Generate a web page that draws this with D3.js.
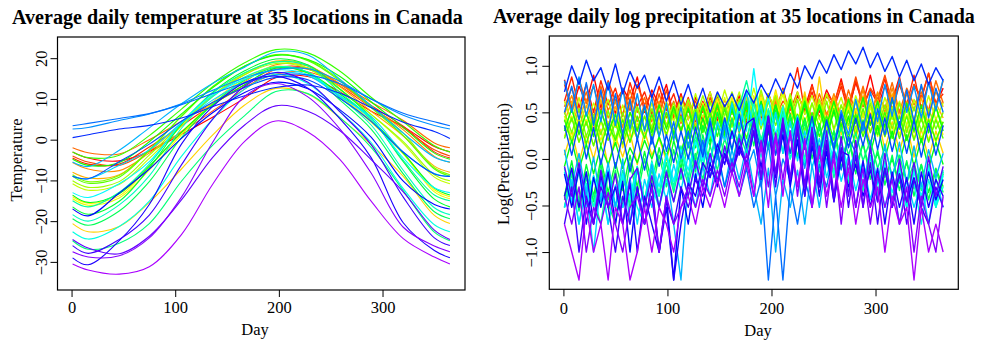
<!DOCTYPE html>
<html><head><meta charset="utf-8">
<script src="https://cdn.jsdelivr.net/npm/d3@7"></script>
<style>
body{margin:0;background:#fff}
svg{display:block}
text{font-family:"Liberation Serif","Times New Roman",serif;fill:#000}
</style>
</head><body>
<svg id="c" width="981" height="341"></svg>
<script>
// ---------------- DATA ----------------
const stations = ["St. Johns","Halifax","Sydney","Yarmouth","Charlottetown","Fredericton","Scheffervll","Arvida","Bagottville","Quebec","Sherbrooke","Montreal","Ottawa","Toronto","London","Thunder Bay","Winnipeg","The Pas","Churchill","Regina","Pr. Albert","Uranium Cty","Edmonton","Calgary","Kamloops","Vancouver","Victoria","Pr. George","Pr. Rupert","Whitehorse","Dawson","Yellowknife","Iqaluit","Inuvik","Resolute"];

const tempDays = [1,16,46,75,106,136,167,197,228,259,289,320,350,365];
const tempSeries = [
[-3.0,-4.5,-5.2,-2.9,1.3,5.5,10.2,15.2,15.5,11.7,7.0,3.2,-1.7,-3.0],
[-4.5,-6.0,-6.0,-1.8,3.4,8.6,13.5,17.6,17.6,13.6,8.4,3.3,-3.0,-4.5],
[-4.0,-5.5,-6.3,-2.8,1.8,7.0,12.4,17.2,17.3,13.1,7.9,2.9,-2.5,-4.0],
[-2.0,-3.2,-3.5,0.0,4.5,8.8,12.9,16.1,16.6,13.6,9.2,4.7,-0.8,-2.0],
[-5.6,-7.2,-7.6,-3.3,2.0,8.5,14.2,18.4,18.1,13.7,8.1,2.4,-4.1,-5.6],
[-8.0,-9.4,-8.6,-2.8,3.8,10.6,15.9,19.3,18.3,13.0,7.0,0.9,-6.5,-8.0],
[-20.6,-22.6,-21.3,-15.4,-7.2,1.1,8.5,12.6,11.2,5.3,-1.2,-9.0,-18.6,-20.6],
[-14.0,-15.6,-13.8,-6.6,1.6,9.2,15.1,18.0,16.5,10.8,4.6,-3.2,-12.3,-14.0],
[-14.5,-16.1,-14.3,-7.4,1.2,8.7,14.7,17.8,16.3,10.5,4.3,-3.5,-12.8,-14.5],
[-10.8,-12.4,-11.0,-4.6,3.3,10.8,16.3,19.1,17.6,12.3,6.2,-0.9,-9.2,-10.8],
[-10.1,-11.7,-10.3,-3.8,3.8,10.8,16.0,18.7,17.4,12.3,6.2,-0.5,-8.6,-10.1],
[-8.6,-10.3,-8.8,-2.4,5.7,12.9,18.0,20.9,19.6,14.7,8.3,1.6,-6.9,-8.6],
[-9.0,-10.7,-9.2,-2.6,5.7,13.0,18.1,20.8,19.4,14.4,7.9,1.0,-7.2,-9.0],
[-3.0,-4.4,-3.8,1.0,7.5,13.8,18.9,22.1,21.3,16.8,10.4,4.4,-1.5,-3.0],
[-4.8,-6.3,-5.6,-0.5,6.3,12.7,18.0,20.7,19.7,15.5,9.3,3.0,-3.3,-4.8],
[-13.6,-15.4,-13.3,-6.5,1.8,8.5,13.5,17.6,16.4,11.2,5.0,-3.3,-11.9,-13.6],
[-16.5,-18.3,-15.1,-7.0,3.8,11.6,16.9,19.8,18.3,12.4,5.4,-5.4,-14.6,-16.5],
[-19.4,-21.0,-17.5,-10.3,0.5,8.6,14.6,17.7,16.5,9.7,2.6,-8.4,-17.7,-19.4],
[-24.8,-26.9,-25.4,-20.6,-10.2,-1.4,5.9,11.8,11.3,5.4,-1.9,-12.5,-22.7,-24.8],
[-15.0,-16.5,-12.9,-6.0,4.1,11.4,16.4,19.1,18.1,11.6,5.1,-5.1,-13.6,-15.0],
[-18.4,-20.0,-16.0,-8.9,2.8,10.5,15.4,17.9,16.6,10.3,3.6,-7.5,-16.7,-18.4],
[-22.6,-24.4,-21.3,-15.1,-4.1,5.0,12.4,16.0,13.8,6.9,-0.7,-12.0,-20.9,-22.6],
[-13.0,-14.2,-10.8,-5.4,4.1,10.9,14.8,17.1,16.0,10.8,5.1,-4.5,-11.8,-13.0],
[-9.0,-9.6,-6.3,-2.5,4.1,9.7,14.0,16.4,15.7,10.6,5.7,-3.0,-8.3,-9.0],
[-5.5,-6.6,-2.6,2.9,8.8,13.8,17.8,21.5,20.8,14.8,8.3,1.6,-4.3,-5.5],
[2.6,3.0,4.7,6.3,8.8,12.1,15.2,17.2,17.4,14.3,10.0,6.0,3.5,2.6],
[3.4,4.0,5.2,6.4,8.6,11.3,13.9,15.8,15.9,13.7,10.0,6.5,4.4,3.4],
[-9.0,-9.6,-5.4,-1.1,4.5,9.1,12.8,15.3,14.7,10.1,4.5,-3.1,-8.4,-9.0],
[0.5,1.2,2.6,3.5,5.3,8.1,10.8,12.8,13.4,11.4,7.9,4.3,2.0,0.3],
[-17.0,-18.7,-13.1,-7.2,0.3,6.6,11.6,14.1,12.5,7.3,0.6,-10.2,-15.9,-17.0],
[-29.0,-30.7,-24.8,-15.9,-1.1,8.1,14.0,15.6,12.6,5.1,-4.4,-20.4,-27.2,-29.0],
[-26.0,-27.9,-24.5,-18.5,-6.2,5.0,13.1,16.5,14.1,6.8,-1.2,-14.1,-24.1,-26.0],
[-24.5,-26.6,-28.0,-23.7,-14.8,-4.4,3.6,8.3,7.0,2.2,-4.9,-12.8,-22.2,-24.5],
[-27.5,-28.8,-28.5,-24.1,-14.1,-0.7,10.6,13.8,10.5,2.6,-8.2,-21.5,-26.1,-27.5],
[-30.5,-32.0,-33.0,-31.2,-23.3,-11.0,-0.4,4.6,1.9,-4.9,-15.1,-24.3,-28.8,-30.5]
];

const precipDays = [1,8,15,22,29,36,43,50,57,64,71,78,85,92,99,106,113,120,127,134,141,148,155,162,169,176,183,190,197,204,211,218,225,232,239,246,253,260,267,274,281,288,295,302,309,316,323,330,337,344,351,358,365];
const precipSeries = [
[0.85,0.52,0.78,0.60,0.90,0.55,0.82,0.48,0.76,0.62,0.88,0.50,0.74,
 0.58,0.80,0.46,0.70,0.42,0.66,0.50,0.72,0.40,0.64,0.48,0.68,0.38,
 0.62,0.44,0.70,0.50,0.76,0.46,0.68,0.54,0.80,0.50,0.74,0.58,0.86,
 0.54,0.82,0.60,0.90,0.56,0.78,0.62,0.88,0.52,0.80,0.64,0.92,0.58,0.76],
[0.62,0.88,0.55,0.80,0.50,0.84,0.58,0.76,0.46,0.82,0.56,0.72,0.48,
 0.78,0.52,0.70,0.44,0.66,0.40,0.62,0.46,0.68,0.36,0.60,0.42,0.56,
 0.34,0.62,0.40,0.70,0.46,0.64,0.98,0.50,0.72,0.44,0.68,0.54,0.78,
 0.50,0.84,0.56,0.74,0.60,0.86,0.52,0.80,0.58,0.90,0.54,0.82,0.60,0.70],
[0.80,0.56,0.86,0.60,0.78,0.50,0.84,0.62,0.74,0.52,0.80,0.58,0.70,
 0.48,0.74,0.44,0.68,0.50,0.62,0.40,0.66,0.44,0.58,0.36,0.64,0.42,
 0.60,0.38,0.70,0.46,0.62,0.52,0.72,0.48,0.78,0.54,0.70,0.60,0.82,
 0.56,0.88,0.58,0.76,0.64,0.90,0.60,0.84,0.54,0.80,0.66,0.92,0.58,0.84],
[0.56,0.76,0.50,0.72,0.44,0.78,0.52,0.68,0.46,0.74,0.50,0.66,0.40,
 0.70,0.44,0.62,0.38,0.64,0.34,0.58,0.30,0.54,0.36,0.60,0.28,0.52,
 0.34,0.58,0.30,0.62,0.40,0.56,0.36,0.66,0.42,0.70,0.48,0.64,0.44,
 0.74,0.50,0.78,0.46,0.70,0.54,0.82,0.50,0.76,0.58,0.72,0.52,0.84,0.60],
[0.48,0.68,0.42,0.64,0.36,0.70,0.44,0.62,0.34,0.66,0.40,0.58,0.32,
 0.62,0.36,0.56,0.30,0.58,0.34,0.54,0.28,0.60,0.36,0.56,0.30,0.62,
 0.38,0.58,0.34,0.66,0.40,0.60,0.36,0.68,0.42,0.64,0.46,0.70,0.44,
 0.66,0.48,0.74,0.44,0.72,0.50,0.76,0.46,0.70,0.52,0.78,0.48,0.72,0.56],
[0.40,0.62,0.34,0.58,0.30,0.64,0.36,0.56,0.28,0.60,0.32,0.54,0.30,
 0.58,0.34,0.52,0.28,0.60,0.36,0.56,0.32,0.64,0.38,0.58,0.34,0.62,
 0.30,0.58,0.36,0.66,0.32,0.60,0.28,0.62,0.34,0.58,0.40,0.66,0.36,
 0.62,0.42,0.68,0.38,0.64,0.44,0.70,0.36,0.62,0.40,0.66,0.34,0.60,0.44],
[0.04,0.30,-0.04,0.26,0.00,0.32,-0.08,0.24,0.02,0.28,-0.06,0.30,0.04,
 0.22,-0.02,0.30,0.06,0.36,0.14,0.44,0.22,0.52,0.26,0.60,0.34,0.66,
 0.40,0.70,0.36,0.74,0.42,0.68,0.38,0.72,0.30,0.88,0.34,0.62,0.26,
 0.56,0.22,0.50,0.16,0.46,0.10,0.40,0.08,0.36,0.02,0.32,0.00,0.30,0.06],
[0.24,0.46,0.18,0.42,0.14,0.40,0.20,0.44,0.12,0.38,0.22,0.46,0.20,
 0.44,0.24,0.52,0.28,0.56,0.32,0.60,0.36,0.64,0.38,0.66,0.42,0.70,
 0.40,0.66,0.44,0.72,0.36,0.68,0.42,0.64,0.36,0.62,0.32,0.58,0.34,
 0.56,0.28,0.54,0.30,0.50,0.24,0.52,0.26,0.48,0.22,0.46,0.20,0.44,0.26],
[0.46,0.22,0.44,0.16,0.42,0.20,0.40,0.14,0.44,0.18,0.38,0.22,0.46,
 0.26,0.50,0.24,0.54,0.30,0.58,0.34,0.62,0.36,0.66,0.40,0.64,0.34,
 0.68,0.38,0.62,0.42,0.70,0.36,0.64,0.40,0.60,0.34,0.62,0.30,0.58,
 0.32,0.54,0.28,0.56,0.24,0.50,0.26,0.48,0.20,0.46,0.22,0.44,0.18,0.40],
[0.62,0.40,0.66,0.36,0.60,0.42,0.64,0.34,0.58,0.38,0.56,0.32,0.60,
 0.36,0.62,0.40,0.66,0.42,0.70,0.44,0.72,0.46,0.74,0.48,0.72,0.44,
 0.76,0.46,0.70,0.50,0.74,0.44,0.72,0.48,0.68,0.42,0.70,0.46,0.66,
 0.40,0.68,0.44,0.64,0.38,0.66,0.42,0.62,0.36,0.64,0.40,0.68,0.42,0.60],
[0.32,0.54,0.28,0.50,0.26,0.52,0.30,0.48,0.24,0.50,0.30,0.56,0.34,
 0.58,0.36,0.60,0.40,0.64,0.42,0.68,0.44,0.70,0.46,0.72,0.48,0.70,
 0.44,0.74,0.46,0.68,0.42,0.70,0.40,0.66,0.38,0.64,0.36,0.62,0.34,
 0.60,0.32,0.62,0.36,0.58,0.30,0.56,0.32,0.54,0.28,0.52,0.30,0.56,0.34],
[0.50,0.28,0.54,0.24,0.48,0.26,0.52,0.22,0.50,0.28,0.56,0.30,0.54,
 0.32,0.58,0.30,0.60,0.34,0.56,0.30,0.62,0.32,0.58,0.34,0.64,0.36,
 0.60,0.32,0.62,0.36,0.58,0.34,0.64,0.30,0.60,0.34,0.62,0.32,0.58,
 0.36,0.62,0.34,0.60,0.30,0.58,0.32,0.60,0.28,0.56,0.30,0.54,0.32,0.50],
[0.22,0.44,0.18,0.40,0.14,0.42,0.20,0.38,0.16,0.42,0.22,0.46,0.24,
 0.48,0.26,0.52,0.30,0.56,0.32,0.58,0.34,0.60,0.30,0.62,0.36,0.58,
 0.32,0.60,0.34,0.56,0.30,0.62,0.36,0.58,0.32,0.56,0.28,0.54,0.30,
 0.52,0.26,0.54,0.28,0.50,0.24,0.48,0.22,0.46,0.20,0.44,0.18,0.42,0.22],
[0.42,0.18,0.40,0.16,0.44,0.14,0.38,0.20,0.42,0.18,0.46,0.22,0.48,
 0.24,0.50,0.26,0.46,0.22,0.52,0.28,0.50,0.24,0.54,0.26,0.48,0.22,
 0.50,0.20,0.46,0.24,0.52,0.26,0.48,0.22,0.50,0.24,0.46,0.20,0.44,
 0.22,0.48,0.24,0.46,0.26,0.50,0.22,0.46,0.20,0.44,0.18,0.42,0.20,0.40],
[0.30,0.54,0.26,0.50,0.24,0.52,0.28,0.48,0.22,0.50,0.30,0.56,0.28,
 0.58,0.32,0.56,0.30,0.54,0.26,0.56,0.30,0.58,0.28,0.52,0.32,0.56,
 0.26,0.54,0.30,0.58,0.28,0.60,0.32,0.62,0.34,0.58,0.36,0.62,0.34,
 0.64,0.38,0.66,0.36,0.62,0.34,0.64,0.32,0.60,0.30,0.58,0.28,0.56,0.30],
[-0.08,0.20,-0.12,0.16,-0.16,0.14,-0.06,0.18,-0.10,0.12,-0.04,0.20,0.00,
 0.24,0.02,0.30,0.06,0.36,0.12,0.44,0.18,0.50,0.24,0.56,0.30,0.60,
 0.34,0.62,0.28,0.58,0.32,0.64,0.30,0.60,0.26,0.58,0.22,0.52,0.18,
 0.46,0.12,0.42,0.06,0.36,0.00,0.30,-0.04,0.26,-0.08,0.22,-0.10,0.18,-0.06],
[-0.40,-0.02,-0.46,-0.06,-0.40,0.00,-0.36,-0.04,-0.34,0.04,-0.30,0.08,-0.26,
 0.12,-0.20,0.20,-0.10,0.28,-0.02,0.36,0.14,0.50,0.22,0.58,0.30,0.62,
 0.32,0.56,0.26,0.52,0.22,0.48,0.18,0.44,0.10,0.38,0.06,0.30,0.00,
 0.22,-0.08,0.16,-0.14,0.06,-0.20,0.00,-0.26,-0.04,-0.32,-0.06,-0.36,-0.10,-0.30],
[-0.44,-0.10,-0.52,-0.14,-0.46,-0.06,-0.44,-0.12,-0.52,-0.04,-0.40,0.00,-0.36,
 0.04,-0.30,0.10,-0.22,0.18,-0.14,0.26,-0.06,0.36,0.02,0.44,0.08,0.50,
 0.14,0.54,0.10,0.48,0.06,0.44,0.02,0.40,0.00,0.34,-0.04,0.30,-0.10,
 0.24,-0.16,0.18,-0.22,0.10,-0.28,0.04,-0.34,-0.02,-0.40,-0.06,-0.44,-0.12,-0.36],
[-0.52,-0.16,-0.56,-0.20,-0.52,-0.12,-0.48,-0.70,-0.14,-0.52,-0.10,-0.46,-0.12,
 -0.40,-0.04,-0.36,0.00,-0.28,0.06,-0.22,0.14,-0.12,0.22,-0.04,0.28,0.06,
 0.36,0.10,0.44,0.16,0.50,0.20,0.46,0.14,0.42,0.12,0.40,0.08,0.34,
 0.04,0.28,-0.02,0.20,-0.10,0.12,-0.18,0.04,-0.26,-0.04,-0.34,-0.10,-0.44,-0.16],
[-0.52,-0.14,-0.46,-0.20,-0.40,-0.70,-0.16,-0.52,-0.12,-0.48,-0.08,-0.44,-0.02,
 -0.38,0.04,-0.30,0.14,-0.20,0.26,-0.08,0.34,0.10,0.44,0.22,0.56,0.84,
 0.50,0.14,0.48,0.06,0.40,0.00,0.34,-0.06,0.26,-0.14,0.20,-0.20,0.12,
 -0.26,0.06,-0.34,0.02,-0.40,-0.04,-0.52,-0.08,-0.52,-0.12,-0.46,-0.08,-0.52,-0.14],
[-0.10,-0.46,-0.14,-0.52,-0.18,-0.44,-0.12,-0.52,-0.20,-0.40,-0.08,-0.46,-0.04,
 -0.40,0.04,-0.32,0.10,-0.22,0.20,-0.10,0.30,0.00,0.40,0.08,0.50,0.14,
 0.62,0.18,0.54,0.12,0.48,0.06,0.42,0.00,0.34,-0.06,0.26,-0.14,0.18,
 -0.20,0.10,-0.28,0.04,-0.36,-0.02,-0.44,-0.06,-0.52,-0.10,-0.46,-0.06,-0.52,-0.12],
[-0.52,-0.22,-0.70,-0.26,-0.52,-0.18,-0.70,-0.30,-0.52,-0.24,-0.52,-0.70,-0.30,
 -0.52,-0.22,-0.46,-0.14,-0.40,-0.06,-0.30,0.04,-0.22,0.10,-0.12,0.18,-0.04,
 0.26,0.02,0.34,0.06,0.30,0.00,0.26,-0.04,0.20,-0.10,0.14,-0.16,0.08,
 -0.22,0.02,-0.30,-0.06,-0.40,-0.12,-0.52,-0.20,-0.52,-0.26,-0.70,-0.22,-0.52,-0.30],
[-0.14,-0.46,-0.10,-0.52,-0.18,-0.40,-0.12,-0.52,-0.16,-0.44,-0.10,-0.48,-0.04,
 -0.30,0.06,-0.24,0.10,-0.12,0.18,-0.02,0.28,0.10,0.42,0.22,0.60,0.30,
 0.97,0.36,0.66,0.26,0.56,0.20,0.46,0.12,0.38,0.04,0.30,-0.04,0.20,
 -0.12,0.10,-0.20,0.02,-0.28,-0.06,-0.36,-0.12,-0.44,-0.14,-0.40,-0.10,-0.48,-0.18],
[-0.52,-0.26,-0.70,-0.30,-1.00,-0.24,-0.70,-0.28,-0.52,-0.20,-0.70,-0.22,-0.52,
 -0.16,-0.44,-0.06,-0.34,0.04,-0.24,0.16,-0.04,0.40,0.20,0.60,0.30,0.72,
 0.28,0.58,0.14,0.50,0.06,0.40,-0.02,0.30,-0.10,0.22,-0.20,0.12,-0.24,
 0.04,-0.34,-0.02,-0.44,-0.10,-0.52,-0.18,-0.70,-0.22,-0.52,-0.26,-0.70,-0.20,-0.52],
[0.10,-0.30,0.06,-0.40,0.02,-0.46,-0.04,-0.52,0.00,-0.70,-0.10,-0.52,-0.06,
 -0.52,-0.12,-0.70,-1.30,-0.20,-0.52,-0.08,-0.40,0.04,-0.30,0.10,-0.22,0.14,
 -0.30,-0.70,-0.10,-1.00,-0.22,-0.52,-0.12,-0.70,-0.06,-0.52,0.00,-0.40,0.04,
 -0.36,0.08,-0.30,0.12,-0.26,0.16,-0.22,0.18,-0.26,0.14,-0.30,0.10,-0.20,0.06],
[0.84,0.50,0.88,0.46,0.80,0.40,0.82,0.36,0.76,0.32,0.70,0.30,0.66,
 0.24,0.60,0.20,0.56,0.12,0.50,0.06,0.44,0.00,0.36,-0.06,0.26,-0.12,
 0.10,-0.30,0.16,-0.40,0.00,-0.22,0.20,-0.10,0.30,0.00,0.40,0.14,0.52,
 0.26,0.64,0.30,0.72,0.40,0.80,0.46,0.86,0.50,0.78,0.44,0.82,0.52,0.86],
[0.50,0.78,0.42,0.82,0.36,0.74,0.30,0.70,0.26,0.64,0.20,0.58,0.16,
 0.50,0.08,0.40,0.00,0.30,-0.10,0.20,-0.20,0.10,-0.30,0.00,-0.40,-0.10,
 -0.52,-0.22,-1.30,-0.40,-1.30,-0.30,-0.70,-0.22,-0.52,-0.06,-0.30,0.10,-0.12,
 0.24,0.06,0.40,0.14,0.54,0.26,0.66,0.34,0.74,0.40,0.80,0.44,0.76,0.50],
[0.36,0.04,0.40,0.00,0.34,-0.06,0.30,-0.10,0.26,-0.14,0.22,-0.12,0.24,
 -0.08,0.26,-0.04,0.30,0.00,0.34,0.02,0.40,0.06,0.44,0.10,0.48,0.12,
 0.42,0.08,0.46,0.04,0.40,0.06,0.44,0.10,0.46,0.04,0.42,0.10,0.48,
 0.12,0.44,0.14,0.48,0.10,0.44,0.08,0.40,0.06,0.42,0.02,0.38,0.04,0.36],
[0.72,1.00,0.80,1.06,0.84,0.98,0.74,1.02,0.70,0.94,0.76,0.90,0.66,
 0.88,0.62,0.84,0.58,0.80,0.54,0.76,0.50,0.72,0.56,0.70,0.52,0.74,
 0.60,0.80,0.66,0.86,0.70,0.92,0.76,1.00,0.86,1.06,0.92,1.12,0.96,
 1.16,1.02,1.20,0.98,1.14,0.94,1.10,0.88,1.06,0.84,1.02,0.80,0.98,0.84],
[-0.16,-0.52,-0.10,-0.70,-0.20,-0.52,-0.14,-0.70,-0.24,-1.00,-0.30,-0.70,-0.26,
 -1.00,-0.40,-1.30,-0.30,-0.70,-0.16,-0.52,-0.04,-0.30,0.06,-0.16,0.14,-0.06,
 0.30,-0.22,0.34,-0.16,0.26,-0.30,0.20,-0.40,0.14,-0.30,0.08,-0.46,0.02,
 -0.30,-0.06,-0.40,-0.12,-0.46,-0.10,-0.52,-0.16,-0.46,-0.20,-0.52,-0.14,-0.44,-0.22],
[-0.40,-0.10,-0.52,-0.14,-0.70,-0.18,-0.52,-0.30,-0.70,-0.26,-1.00,-0.40,-0.70,
 -1.00,-0.52,-1.30,-0.70,-0.26,-0.40,-0.04,-0.20,0.16,-0.06,0.30,0.04,0.38,
 0.44,-0.10,0.46,-0.20,0.38,-0.26,0.32,-0.30,0.22,-0.40,0.16,-0.44,0.08,
 0.04,-0.52,-0.02,-0.52,-0.10,-0.70,-0.14,-0.52,-0.20,-0.70,-0.14,-0.52,-0.22,-0.40],
[-0.70,-0.30,-1.00,-0.40,-0.70,-0.30,-0.52,-1.00,-0.40,-0.70,-0.30,-0.70,-0.40,
 -1.00,-0.46,-0.70,-0.30,-0.52,-0.22,-0.40,-0.10,-0.26,0.04,-0.16,0.10,-0.06,
 0.30,-0.22,0.36,-0.30,0.40,-0.22,0.32,-0.40,0.26,-0.30,0.20,-0.46,0.12,
 -0.52,0.04,-0.52,-0.04,-0.70,-0.10,-0.52,-0.16,-0.70,-0.22,-0.52,-0.70,-0.30,-0.52],
[-0.08,-0.40,-0.04,-0.46,-0.70,-0.12,-0.52,-0.16,-0.70,-0.22,-0.10,-0.52,-0.18,
 -0.52,-0.14,-0.46,-0.10,-0.40,-0.02,-0.30,0.06,-0.24,0.14,-0.16,0.22,-0.08,
 0.40,-0.20,0.46,-0.16,0.44,-0.22,0.40,-0.30,0.34,-0.24,0.30,-0.40,0.24,
 -0.40,0.20,-0.52,0.14,-0.46,0.06,-0.52,0.00,-0.46,-0.04,-0.52,0.02,-0.40,-0.08],
[-0.40,-0.70,-0.30,-1.00,-0.52,-0.70,-0.36,-0.70,-1.00,-0.52,-0.40,-0.70,-0.30,
 -1.00,-0.40,-0.70,-0.52,-0.30,-0.52,-0.22,-0.40,-0.12,-0.40,-0.04,-0.30,0.06,
 -0.40,0.20,-0.30,0.28,-0.22,0.30,-0.40,0.22,-0.52,0.14,-0.52,0.08,-0.70,
 0.00,-0.52,-0.10,-0.70,-0.16,-0.52,-0.22,-0.70,-0.30,-1.00,-0.40,-0.70,-1.00,-0.40],
[-0.70,-1.00,-1.30,-0.52,-1.00,-0.70,-1.30,-0.52,-0.70,-1.30,-1.00,-0.52,-1.00,
 -0.52,-0.70,-1.00,-0.52,-0.40,-0.70,-0.30,-0.52,-0.22,-0.52,-0.14,-0.40,-0.04,
 -0.40,0.16,-0.52,0.24,-0.40,0.30,-0.30,0.20,-0.52,0.12,-0.40,0.00,-0.52,
 -0.10,-0.70,-0.22,-0.52,-0.30,-1.00,-0.40,-0.70,-0.52,-1.30,-0.52,-1.00,-0.70,-1.00]
];

const dayTicks = [0,100,200,300];
const tempTicks = [-30,-20,-10,0,10,20];
const precipTicks = [-1,-0.5,0,0.5,1];
const titles = ["Average daily temperature at 35 locations in Canada","Average daily log precipitation at 35 locations in Canada"];

// ---------------- DRAW ----------------
const svg = d3.select("#c");
const hueScale = d3.scaleLinear().domain([0, stations.length-1]).range([0, 280]);
const colors = stations.map((s,i)=>d3.hsl(hueScale(i),1,0.5).formatHex());
const FONT = '"Liberation Serif","Times New Roman",serif';

function panel(cfg){
  const x = d3.scaleLinear().domain([-13.56, 379.56]).range([cfg.left, cfg.right]);
  const y = d3.scaleLinear().domain(cfg.yDomain).range([cfg.bottom, cfg.top]);
  const g = svg.append("g");
  const line = d3.line().x((d,i)=>x(cfg.days[i])).y(d=>y(d)).curve(cfg.curve);
  g.selectAll("path.series").data(cfg.series).join("path")
    .attr("class","series").attr("fill","none")
    .attr("stroke",(d,i)=>colors[i]).attr("stroke-width",cfg.lw)
    .attr("stroke-linejoin","round")
    .attr("d",line);
  g.append("rect").attr("x",cfg.left).attr("y",cfg.top)
    .attr("width",cfg.right-cfg.left).attr("height",cfg.bottom-cfg.top)
    .attr("fill","none").attr("stroke","#000").attr("stroke-width",1.2);

  const xa = g.append("g").attr("transform",`translate(0,${cfg.bottom})`)
    .call(d3.axisBottom(x).tickValues(dayTicks).tickSize(7).tickSizeOuter(0).tickFormat(d3.format("d")));
  xa.select(".domain").remove();
  xa.attr("font-family",FONT).attr("font-size",16.5);
  xa.selectAll("text").attr("y",cfg.xTickY-cfg.bottom).attr("dy","0.35em").attr("fill","#000");

  const ya = g.append("g").attr("transform",`translate(${cfg.left},0)`)
    .call(d3.axisLeft(y).tickValues(cfg.yTicks).tickSize(7).tickSizeOuter(0).tickFormat(cfg.fmt));
  ya.select(".domain").remove();
  ya.attr("font-family",FONT).attr("font-size",16.5);
  ya.selectAll("text").attr("x",0).attr("y",0).attr("dy","0.35em")
    .attr("text-anchor","middle").attr("fill","#000")
    .attr("transform",`translate(${cfg.yTickX-cfg.left},0) rotate(-90)`);

  svg.append("text").attr("x",cfg.xLabX).attr("y",cfg.xLabY).attr("dy","0.35em")
    .attr("text-anchor","middle").attr("font-size",16.5).text("Day");
  svg.append("text").attr("transform",`translate(${cfg.yLabX},${cfg.yLabY}) rotate(-90)`)
    .attr("dy","0.35em").attr("text-anchor","middle").attr("font-size",16.5).text(cfg.yLabel);

  const t = svg.append("text").attr("x",cfg.titleX).attr("y",cfg.titleY)
    .attr("font-weight","bold").attr("font-size",18.5).text(cfg.title);
  const w = t.node().getComputedTextLength();
  if (w > 0) t.attr("font-size", 18.5*cfg.titleW/w);
}

panel({left:57.5,right:465,top:37,bottom:290,yDomain:[-36.9,25.2],
  days:tempDays,series:tempSeries,curve:d3.curveCatmullRom.alpha(0.5),lw:1.1,
  yTicks:tempTicks,fmt:d3.format("d"),xTickY:307.3,yTickX:41.7,
  xLabX:255,xLabY:329.3,yLabX:16,yLabY:160,yLabel:"Temperature",
  title:titles[0],titleX:12,titleY:24,titleW:451});

panel({left:549.3,right:958.3,top:36,bottom:289.3,yDomain:[-1.40,1.32],
  days:precipDays,series:precipSeries,curve:d3.curveLinear,lw:1.4,
  yTicks:precipTicks,fmt:d3.format(".1f"),xTickY:308.3,yTickX:531.7,
  xLabX:758,xLabY:330.5,yLabX:503.3,yLabY:164,yLabel:"Log(Precipitation)",
  title:titles[1],titleX:493,titleY:22.5,titleW:482});
</script>
</body></html>
